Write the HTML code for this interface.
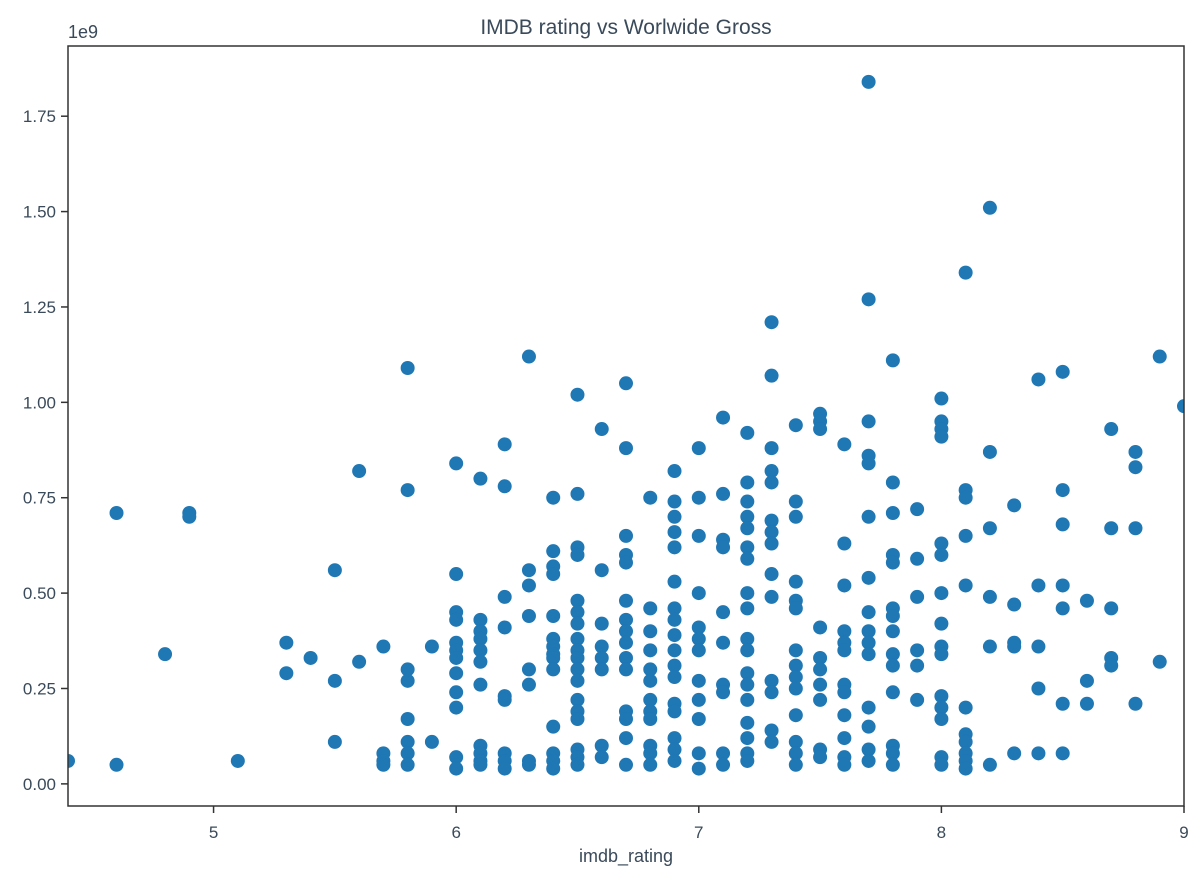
<!DOCTYPE html>
<html><head><meta charset="utf-8"><style>
body{margin:0;background:#fff;}
svg text{font-family:"Liberation Sans","DejaVu Sans",sans-serif;fill:#3a4a5a;}
</style></head><body>
<svg id="chart" width="1200" height="880" viewBox="0 0 1200 880" xmlns="http://www.w3.org/2000/svg">
<defs><clipPath id="clip"><rect x="68" y="46" width="1116" height="760"/></clipPath></defs>
<text x="626" y="34" font-size="21" text-anchor="middle">IMDB rating vs Worlwide Gross</text>
<text x="68" y="38" font-size="18">1e9</text>
<text x="626" y="862" font-size="18" text-anchor="middle">imdb_rating</text>
<g id="points" clip-path="url(#clip)"></g>
<g id="axes"></g>
</svg>
<script>
const ratings=[4.4,4.6,4.8,4.9,5.1,5.3,5.4,5.5,5.6,5.7,5.8,5.9,6.0,6.1,6.2,6.3,6.4,6.5,6.6,6.7,6.8,6.9,7.0,7.1,7.2,7.3,7.4,7.5,7.6,7.7,7.8,7.9,8.0,8.1,8.2,8.3,8.4,8.5,8.6,8.7,8.8,8.9,9.0];
const grosses=[
[0.06],[0.71,0.05],[0.34],[0.71,0.70],[0.06],[0.37,0.29],[0.33],[0.56,0.27,0.11],[0.82,0.32],[0.36,0.08,0.06,0.05],
[1.09,0.77,0.30,0.27,0.17,0.11,0.08,0.05],[0.36,0.11],
[0.84,0.55,0.45,0.43,0.37,0.35,0.33,0.29,0.24,0.20,0.07,0.04],
[0.80,0.43,0.40,0.38,0.35,0.32,0.26,0.10,0.08,0.06,0.05],
[0.89,0.78,0.49,0.41,0.23,0.22,0.08,0.06,0.04],
[1.12,0.56,0.52,0.44,0.30,0.26,0.06,0.05],
[0.75,0.61,0.57,0.55,0.44,0.38,0.36,0.34,0.33,0.30,0.15,0.08,0.06,0.04],
[1.02,0.76,0.62,0.60,0.48,0.45,0.42,0.38,0.35,0.33,0.30,0.27,0.22,0.19,0.17,0.09,0.07,0.05],
[0.93,0.56,0.42,0.36,0.33,0.30,0.10,0.07],
[1.05,0.88,0.65,0.60,0.58,0.48,0.43,0.40,0.37,0.33,0.30,0.19,0.17,0.12,0.05],
[0.75,0.46,0.40,0.35,0.30,0.27,0.22,0.19,0.17,0.10,0.08,0.05],
[0.82,0.74,0.70,0.66,0.62,0.53,0.46,0.43,0.39,0.35,0.31,0.28,0.21,0.19,0.12,0.09,0.06],
[0.88,0.75,0.65,0.50,0.41,0.38,0.35,0.27,0.22,0.17,0.08,0.04],
[0.96,0.76,0.64,0.62,0.45,0.37,0.26,0.24,0.08,0.05],
[0.92,0.79,0.74,0.70,0.67,0.62,0.59,0.50,0.46,0.38,0.35,0.29,0.26,0.22,0.16,0.12,0.08,0.06],
[1.21,1.07,0.88,0.82,0.79,0.69,0.66,0.63,0.55,0.49,0.27,0.24,0.14,0.11],
[0.94,0.74,0.70,0.53,0.48,0.46,0.35,0.31,0.28,0.25,0.18,0.11,0.08,0.05],
[0.97,0.95,0.93,0.41,0.33,0.30,0.26,0.22,0.09,0.07],
[0.89,0.63,0.52,0.40,0.37,0.35,0.26,0.24,0.18,0.12,0.07,0.05],
[1.84,1.27,0.95,0.86,0.84,0.70,0.54,0.45,0.40,0.37,0.34,0.20,0.15,0.09,0.06],
[1.11,0.79,0.71,0.60,0.58,0.46,0.44,0.40,0.34,0.31,0.24,0.10,0.08,0.05],
[0.72,0.59,0.49,0.35,0.31,0.22],
[1.01,0.95,0.93,0.91,0.63,0.60,0.50,0.42,0.36,0.34,0.23,0.20,0.17,0.07,0.05],
[1.34,0.77,0.75,0.65,0.52,0.20,0.13,0.11,0.08,0.06,0.04],
[1.51,0.87,0.67,0.49,0.36,0.05],
[0.73,0.47,0.37,0.36,0.08],
[1.06,0.52,0.36,0.25,0.08],
[1.08,0.77,0.68,0.52,0.46,0.21,0.08],
[0.48,0.27,0.21],
[0.93,0.67,0.46,0.33,0.31],
[0.87,0.83,0.67,0.21],
[1.12,0.32],
[0.99]];
const xTicks=[5,6,7,8,9];
const yTicks=[0,0.25,0.5,0.75,1.0,1.25,1.5,1.75];
const yTickLabels=["0.00","0.25","0.50","0.75","1.00","1.25","1.50","1.75"];
const X0=68,X1=1184,Y0=806,Y1=46,xmin=4.4,xmax=9.0,ymin=-0.058,ymax=1.934;
function sx(v){return X0+(v-xmin)/(xmax-xmin)*(X1-X0);}
function sy(v){return Y0-(v-ymin)/(ymax-ymin)*(Y0-Y1);}
const NS="http://www.w3.org/2000/svg";
const pg=document.getElementById('points');
ratings.forEach((r,i)=>{grosses[i].forEach(g=>{
 const c=document.createElementNS(NS,'circle');
 c.setAttribute('cx',sx(r));c.setAttribute('cy',sy(g));c.setAttribute('r',7);c.setAttribute('fill','#1f77b4');
 
 
 pg.appendChild(c);});});
const ax=document.getElementById('axes');
const fr=document.createElementNS(NS,'rect');
fr.setAttribute('x',X0);fr.setAttribute('y',Y1);fr.setAttribute('width',X1-X0);fr.setAttribute('height',Y0-Y1);
fr.setAttribute('fill','none');fr.setAttribute('stroke','#333');fr.setAttribute('stroke-width','1.5');


ax.appendChild(fr);
xTicks.forEach(t=>{
 const l=document.createElementNS(NS,'line');
 l.setAttribute('x1',sx(t));l.setAttribute('x2',sx(t));l.setAttribute('y1',Y0);l.setAttribute('y2',Y0+7);l.setAttribute('stroke','#333');l.setAttribute('stroke-width','1.5');
 
 
 ax.appendChild(l);
 const tx=document.createElementNS(NS,'text');
 tx.setAttribute('x',sx(t));tx.setAttribute('y',Y0+32);tx.setAttribute('font-size','17');tx.setAttribute('text-anchor','middle');
 tx.textContent=String(t);
 
 
 ax.appendChild(tx);});
yTicks.forEach((t,i)=>{
 const l=document.createElementNS(NS,'line');
 l.setAttribute('x1',X0-7);l.setAttribute('x2',X0);l.setAttribute('y1',sy(t));l.setAttribute('y2',sy(t));l.setAttribute('stroke','#333');l.setAttribute('stroke-width','1.5');
 
 
 ax.appendChild(l);
 const tx=document.createElementNS(NS,'text');
 tx.setAttribute('x',X0-12);tx.setAttribute('y',sy(t)+6);tx.setAttribute('font-size','17');tx.setAttribute('text-anchor','end');
 tx.textContent=yTickLabels[i];
 
 
 ax.appendChild(tx);});
</script>
</body></html>
